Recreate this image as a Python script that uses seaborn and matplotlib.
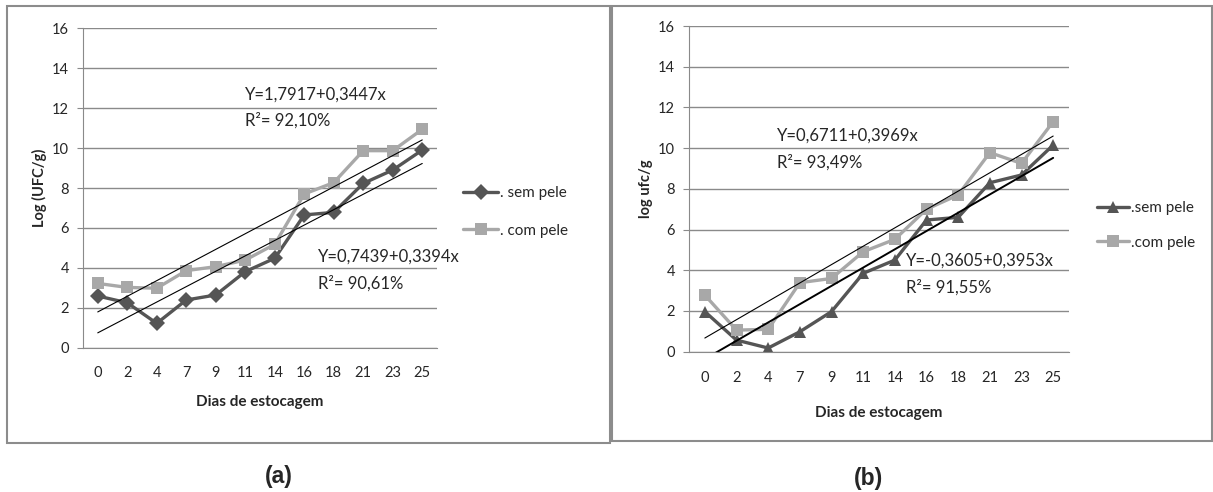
import matplotlib
matplotlib.use('Agg')
import matplotlib.pyplot as plt
import numpy as np
import pandas as pd
import seaborn as sns
from matplotlib.patches import Rectangle

# Data
days = [0, 2, 4, 7, 9, 11, 14, 16, 18, 21, 23, 25]

a_sem = [2.59, 2.25, 1.22, 2.39, 2.64, 3.81, 4.48, 6.65, 6.78, 8.23, 8.90, 9.90]
a_com = [3.22, 3.02, 2.98, 3.86, 4.06, 4.39, 5.18, 7.70, 8.27, 9.87, 9.87, 10.94]
b_sem = [1.97, 0.57, 0.18, 0.98, 1.97, 3.85, 4.50, 6.47, 6.60, 8.30, 8.68, 10.15]
b_com = [2.78, 1.06, 1.10, 3.39, 3.60, 4.91, 5.52, 7.00, 7.70, 9.78, 9.25, 11.30]

# trend lines: intercept, slope (x in days)
a_fit_com = (1.7917, 0.3447)
a_fit_sem = (0.7439, 0.3394)
b_fit_com = (0.6711, 0.3969)
b_fit_sem = (-0.3605, 0.3953)

W, H = 1213, 492
DARK = '#555555'
LIGHT = '#a8a8a8'

sns.set_style('white')
plt.rcParams['font.family'] = ['Lato', 'DejaVu Sans']

fig = plt.figure(figsize=(W / 100, H / 100), dpi=100)


def px_axes(x0, x1, y0, y1):
    # axes from pixel box (top-left origin)
    return fig.add_axes([x0 / W, 1 - y1 / H, (x1 - x0) / W, (y1 - y0) / H])


def draw_panel(ax, sem, com, fit_com, fit_sem, sem_marker, labels, ylabel,
               fit_sem_lw, xpad, xlabelpad):
    pos = np.arange(len(days))
    df = pd.DataFrame({'pos': np.concatenate([pos, pos]),
                       'val': sem + com,
                       'serie': [labels[0]] * len(days) + [labels[1]] * len(days)})
    sns.lineplot(data=df, x='pos', y='val', hue='serie', style='serie',
                 palette=[DARK, LIGHT], markers=[sem_marker, 's'], dashes=False,
                 linewidth=2.4, markersize=8.5, markeredgewidth=0, ax=ax,
                 legend=True)
    ends = [days[0], days[-1]]
    for (c, s), lw in [(fit_com, 0.8), (fit_sem, fit_sem_lw)]:
        ax.plot([pos[0], pos[-1]], [c + s * d for d in ends],
                color='black', lw=lw, zorder=5)

    ax.set_xlim(-0.5, len(days) - 0.5)
    ax.set_ylim(0, 16)
    ax.set_yticks(range(0, 17, 2))
    ax.set_xticks(pos)
    ax.set_xticklabels([str(d) for d in days])
    ax.yaxis.grid(True, color='#8a8a8a', lw=1)
    ax.set_axisbelow(True)
    for side in ['top', 'right']:
        ax.spines[side].set_visible(False)
    ax.spines['left'].set_color('#8a8a8a')
    ax.spines['bottom'].set_color('#8a8a8a')
    ax.tick_params(axis='y', length=4, color='#8a8a8a', labelsize=10.5,
                   pad=6, left=True)
    ax.tick_params(axis='x', length=0, labelsize=10.5, pad=xpad)
    ax.set_xlabel('Dias de estocagem', fontsize=11, fontweight='bold',
                  labelpad=xlabelpad)
    ax.set_ylabel(ylabel, fontsize=10.5, fontweight='bold', labelpad=4)


# panel (a)
ax1 = px_axes(83, 437, 28.3, 347.7)
draw_panel(ax1, a_sem, a_com, a_fit_com, a_fit_sem, 'D',
           ['. sem pele', '. com pele'], 'Log (UFC/g)', 0.8, 13, 11)
ax1.legend(frameon=False, loc='upper left', bbox_to_anchor=(457 / W, 1 - 180 / H),
           bbox_transform=fig.transFigure, fontsize=11, handlelength=2.3,
           handletextpad=0.1, labelspacing=1.55, borderaxespad=0)
ax1.text(245 / W, 1 - 95 / H, 'Y=1,7917+0,3447x', transform=fig.transFigure,
         fontsize=12, va='center')
ax1.text(245 / W, 1 - 120 / H, 'R²= 92,10%', transform=fig.transFigure,
         fontsize=12, va='center')
ax1.text(318 / W, 1 - 257 / H, 'Y=0,7439+0,3394x', transform=fig.transFigure,
         fontsize=12, va='center')
ax1.text(318 / W, 1 - 283 / H, 'R²= 90,61%', transform=fig.transFigure,
         fontsize=12, va='center')

# panel (b)
ax2 = px_axes(689, 1069, 26, 351.7)
draw_panel(ax2, b_sem, b_com, b_fit_com, b_fit_sem, '^',
           ['.sem pele', '.com pele'], 'log ufc/g', 1.4, 14, 15)
ax2.legend(frameon=False, loc='upper left', bbox_to_anchor=(1091 / W, 1 - 195 / H),
           bbox_transform=fig.transFigure, fontsize=11, handlelength=2.1,
           handletextpad=0.1, labelspacing=1.35, borderaxespad=0)
ax2.text(777 / W, 1 - 136 / H, 'Y=0,6711+0,3969x', transform=fig.transFigure,
         fontsize=12, va='center')
ax2.text(777 / W, 1 - 162 / H, 'R²= 93,49%', transform=fig.transFigure,
         fontsize=12, va='center')
ax2.text(906 / W, 1 - 261 / H, 'Y=-0,3605+0,3953x', transform=fig.transFigure,
         fontsize=12, va='center')
ax2.text(906 / W, 1 - 287 / H, 'R²= 91,55%', transform=fig.transFigure,
         fontsize=12, va='center')

# frames around each chart
for x0, x1, y0, y1 in [(7, 610, 6, 443), (612, 1212, 6, 441)]:
    fig.patches.append(Rectangle((x0 / W, 1 - y1 / H), (x1 - x0) / W, (y1 - y0) / H,
                                 transform=fig.transFigure, fill=False,
                                 edgecolor='#8c8c8c', lw=1.5))

fig.text(279 / W, 1 - 477 / H, '(a)', fontsize=16.5, fontweight='bold',
         family=['Liberation Sans', 'DejaVu Sans'], ha='center', va='center')
fig.text(868 / W, 1 - 478 / H, '(b)', fontsize=16.5, fontweight='bold',
         family=['Liberation Sans', 'DejaVu Sans'], ha='center', va='center')

fig.savefig('out.png', dpi=100)
